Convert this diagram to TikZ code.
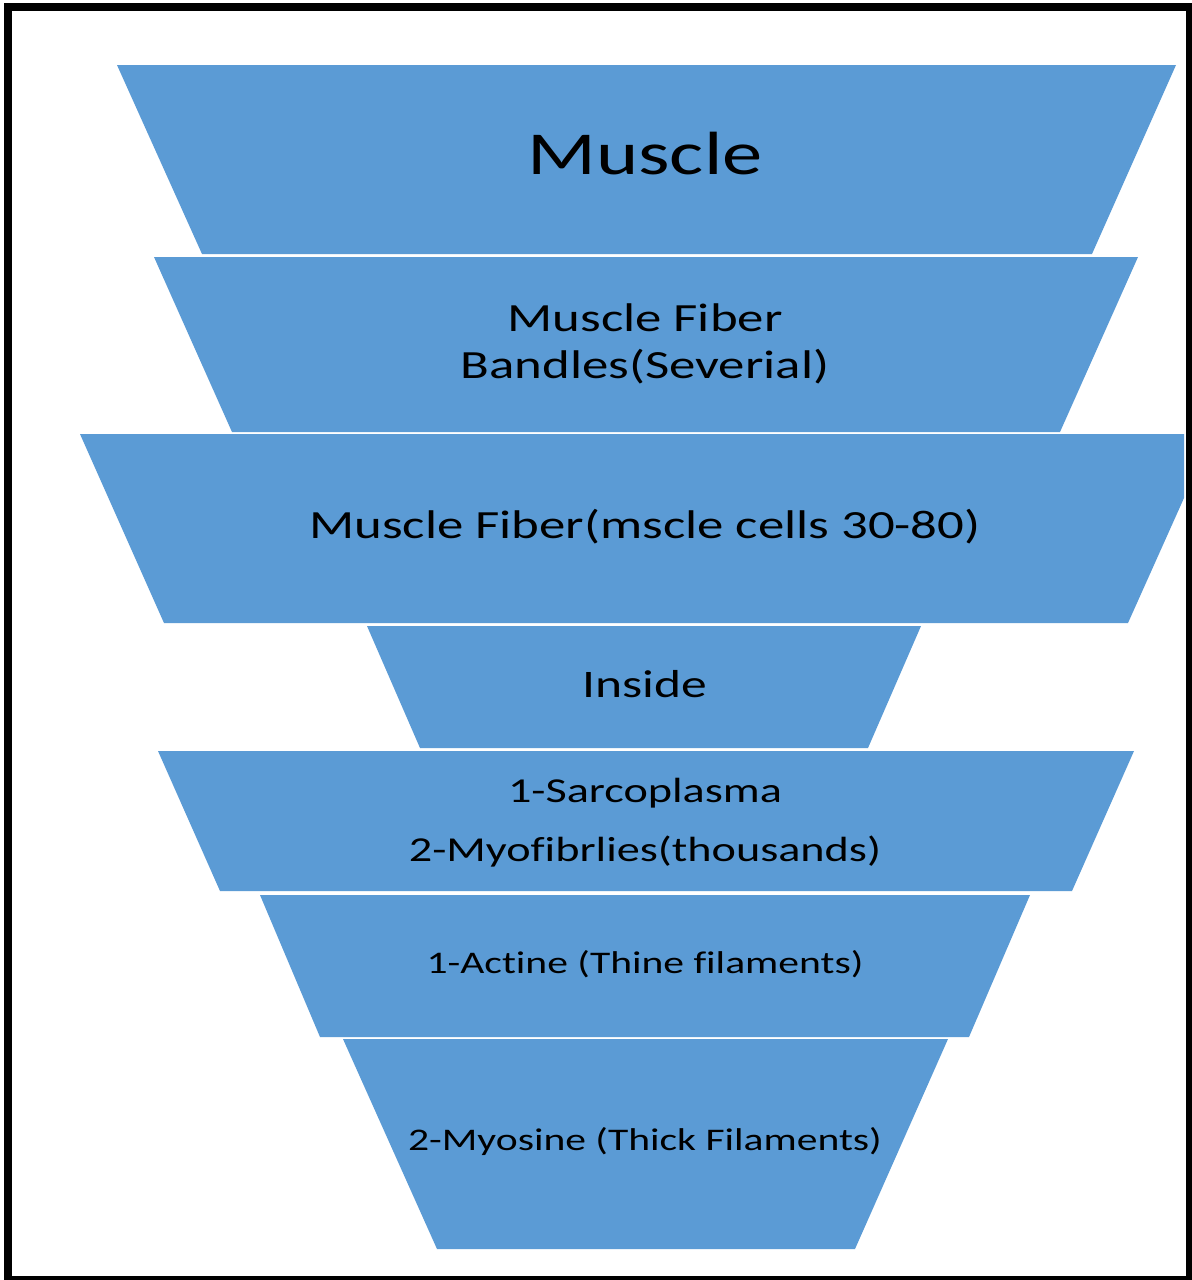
\documentclass[tikz,border=0pt]{standalone}
\usepackage{fontspec}
\setmainfont{Carlito}[FakeStretch=1.32, Ligatures=NoCommon]
\usepackage{xcolor}
\definecolor{bandblue}{HTML}{5B9BD5}
\usepackage{tikz}
\usetikzlibrary{
    positioning % posicionamento relativo de nós
}

\begin{document}
\begin{tikzpicture}[x=0.5pt, y=-0.5pt,
    band/.style={fill=bandblue},
    bandtext/.style={inner sep=0pt, text=black, align=center}]
      % simple knobs
      \def\Xc{645}   % text centre line

      % page and frame
      \clip (0,0) rectangle (1192,1280);
      \fill[white] (0,0) rectangle (1192,1280);
      \draw[line width=4pt] (7.5,7) rectangle (1190,1280);

      % ===================== BANDS (top→bottom) =====================
      \fill[band] (117,65) -- (1176,65) -- (1092,254) -- (202,254) -- cycle;
      \fill[band] (154,257) -- (1138,257) -- (1060,432) -- (232,432) -- cycle;
      \fill[band] (80,434) -- (1184,434) -- (1184,498) -- (1128,623) -- (164,623) -- cycle; % cut by frame
      \fill[band] (367,626) -- (921,626) -- (868,748) -- (420,748) -- cycle;
      \fill[band] (158,751) -- (1134,751) -- (1072,891) -- (220,891) -- cycle;
      \fill[band] (260,895) -- (1030,895) -- (969,1037) -- (320,1037) -- cycle;
      \fill[band] (343,1039) -- (948,1039) -- (855,1249) -- (437,1249) -- cycle;

      % ===================== LABELS =====================
      % base = baseline of the last line
      \node[bandtext, font=\fontsize{30.5}{36}\selectfont, anchor=base] (muscle) at (\Xc,174) {Muscle};
      \node[bandtext, font=\fontsize{20}{23.5}\selectfont, anchor=base] (bundles) at (\Xc,378) {Muscle Fiber\\Bandles(Severial)};
      \node[bandtext, font=\fontsize{20}{24}\selectfont, anchor=base] (fiber) at (\Xc,538) {Muscle Fiber(mscle cells 30-80)};
      \node[bandtext, font=\fontsize{19.5}{24}\selectfont, anchor=base] (inside) at (\Xc,697) {Inside};
      \node[bandtext, font=\fontsize{17.5}{29.5}\selectfont, anchor=base] (sarco) at (\Xc,861) {1-Sarcoplasma\\2-Myofibrlies(thousands)};
      \node[bandtext, font=\fontsize{15.75}{20}\selectfont, anchor=base] (actine) at (\Xc,973) {1-Actine (Thine filaments)};
      \node[bandtext, font=\fontsize{15.75}{20}\selectfont, anchor=base] (myosine) at (\Xc,1150) {2-Myosine (Thick Filaments)};
    \end{tikzpicture}
\end{document}
